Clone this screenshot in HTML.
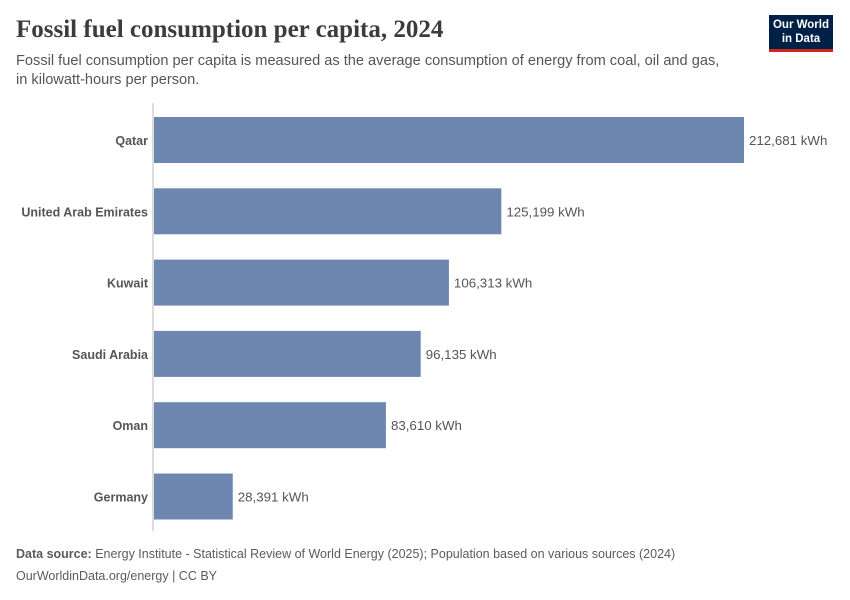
<!DOCTYPE html>
<html><head><meta charset="utf-8"><style>
body{margin:0;width:850px;height:600px;background:#fff;font-family:"Liberation Sans",sans-serif;position:relative;overflow:hidden}
.t{position:absolute;margin:0}
</style></head><body>
<h1 class="t" style="left:16px;top:16px;font-family:'Liberation Serif',serif;font-size:25px;font-weight:bold;color:#3c3c3c">Fossil fuel consumption per capita, 2024</h1>
<div class="t" style="left:16px;top:52px;font-size:14.6px;line-height:19px;color:#555">Fossil fuel consumption per capita is measured as the average consumption of energy from coal, oil and gas,<br>in kilowatt-hours per person.</div>
<div class="t" style="left:769px;top:15px;width:64px;background:#002147;border-bottom:3px solid #ce261e;color:#fff;font-size:11.5px;font-weight:bold;line-height:14px;text-align:center;padding-top:3px;box-sizing:content-box;height:31px">Our World<br>in Data</div>
<svg id="chart" width="850" height="600" style="position:absolute;left:0;top:0"></svg>
<div class="t" style="left:16px;top:547px;font-size:12.5px;color:#5b5b5b"><b>Data source:</b> Energy Institute - Statistical Review of World Energy (2025); Population based on various sources (2024)</div>
<div class="t" style="left:16px;top:569px;font-size:12.5px;color:#5b5b5b">OurWorldinData.org/energy | CC BY</div>
<script>
const countries=["Qatar","United Arab Emirates","Kuwait","Saudi Arabia","Oman","Germany"];
const values=[212681,125199,106313,96135,83610,28391];
const svg=document.getElementById('chart');
const NS='http://www.w3.org/2000/svg';
const x0=154,xmax=212681,xw=590;
function xs(v){return x0+v/xmax*xw;}
function yb(i){return 117+i*71.3;}
const bh=46;
const ax=document.createElementNS(NS,'line');
ax.setAttribute('x1',153);ax.setAttribute('x2',153);ax.setAttribute('y1',103);ax.setAttribute('y2',531);
ax.setAttribute('stroke','#bbb');ax.setAttribute('stroke-width',1);


svg.appendChild(ax);
countries.forEach((c,i)=>{
 const r=document.createElementNS(NS,'rect');
 r.setAttribute('x',x0);r.setAttribute('y',yb(i));r.setAttribute('width',xs(values[i])-x0);r.setAttribute('height',bh);r.setAttribute('fill','#6d87b0');
 
 
 svg.appendChild(r);
 const l=document.createElementNS(NS,'text');
 l.setAttribute('x',148);l.setAttribute('y',yb(i)+bh/2+5);l.setAttribute('text-anchor','end');
 l.setAttribute('font-size','12.5');l.setAttribute('font-weight','bold');l.setAttribute('fill','#555');l.setAttribute('font-family','Liberation Sans, sans-serif');
 l.textContent=c;
 
 
 svg.appendChild(l);
 const v=document.createElementNS(NS,'text');
 v.setAttribute('x',xs(values[i])+5);v.setAttribute('y',yb(i)+bh/2+5);
 v.setAttribute('font-size','13.3');v.setAttribute('fill','#555');v.setAttribute('font-family','Liberation Sans, sans-serif');
 v.textContent=values[i].toLocaleString('en-US')+' kWh';
 
 
 svg.appendChild(v);
});
</script>
</body></html>
